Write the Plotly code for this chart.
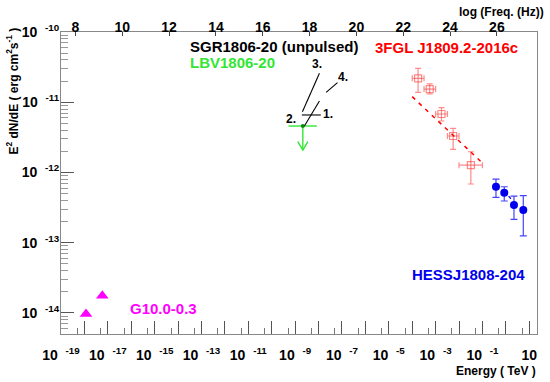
import numpy as np
import plotly.graph_objects as go

# ---------------- data ----------------
# 3FGL J1809.2-2016c  (Energy in TeV, E^2 dN/dE in erg cm^-2 s^-1)
fermi_e = [1.78e-4, 5.6e-4, 1.78e-3, 5.6e-3, 3.2e-2]
fermi_e_lo = [1.0e-4, 3.2e-4, 1.0e-3, 3.2e-3, 1.0e-2]
fermi_e_hi = [3.2e-4, 1.0e-3, 3.2e-3, 1.0e-2, 1.0e-1]
fermi_f = [2.19e-11, 1.54e-11, 6.79e-12, 3.30e-12, 1.27e-12]
fermi_f_lo = [1.38e-11, 1.31e-11, 5.40e-12, 2.13e-12, 6.84e-13]
fermi_f_hi = [3.04e-11, 1.82e-11, 8.36e-12, 4.25e-12, 1.97e-12]
fermi_fit_e = [1.0e-4, 1.0e-1]
fermi_fit_f = [1.20e-11, 1.36e-12]

# HESS J1808-204
hess_e = [0.378, 0.855, 2.22, 5.55]
hess_f = [6.25e-13, 5.14e-13, 3.44e-13, 2.91e-13]
hess_f_lo = [4.42e-13, 3.92e-13, 2.15e-13, 1.25e-13]
hess_f_hi = [8.05e-13, 6.25e-13, 4.61e-13, 4.66e-13]
hess_fit_e = [1.30, 1.65]
hess_fit_f = [4.61e-13, 4.22e-13]

# G10.0-0.3 (radio)
g10_e = [1.17e-18, 5.82e-18]
g10_f = [9.6e-15, 1.75e-14]

# LBV1806-20 upper limit
lbv_e = 2.13e-9
lbv_e_lo = 5.18e-10
lbv_e_hi = 8.45e-9
lbv_f = 4.58e-12
lbv_f_end = 2.08e-12

# SGR1806-20 (unpulsed) segments 1-4
sgr_labels = ["1.", "2.", "3.", "4."]
sgr_seg_e = [[2.49e-9, 1.09e-8], [1.93e-9, 1.25e-8], [2.05e-9, 1.09e-8], [2.11e-8, 6.43e-8]]
sgr_seg_f = [[4.58e-12, 1.04e-11], [6.58e-12, 6.58e-12], [7.33e-12, 2.58e-11], [1.38e-11, 1.90e-11]]
sgr_lab_e = [2.65e-8, 6.75e-10, 8.45e-9, 1.16e-7]
sgr_lab_f = [6.79e-12, 5.70e-12, 3.50e-11, 2.26e-11]

# axes
x_range_log = [-19, 1.33]
y_range_log = [np.log10(5e-15), -10]
x_label_decades = list(range(-19, 2, 2))
y_label_decades = list(range(-14, -9))
freq_ticks = list(range(8, 27, 2))
LOG_HZ_PER_TEV = np.log10(1.602176634e-7 / 6.62607015e-34)

FONT = "Liberation Sans, Arial, Helvetica, sans-serif"
RED = "#ff0000"
PINK = "rgba(255,60,60,0.6)"
BLUE = "#0000ee"
GREEN = "#33e633"
MAG = "#ff00ff"
SP = "\u00a0\u00a0"

fig = go.Figure()

# Fermi points
fig.add_trace(go.Scatter(
    x=fermi_e, y=fermi_f, mode="markers",
    marker=dict(symbol="square-open", size=7, color=PINK, line=dict(width=1.2, color=PINK)),
    error_y=dict(type="data", symmetric=False,
                 array=[h - f for h, f in zip(fermi_f_hi, fermi_f)],
                 arrayminus=[f - l for l, f in zip(fermi_f_lo, fermi_f)],
                 color=PINK, thickness=1.2, width=3),
    error_x=dict(type="data", symmetric=False,
                 array=[h - e for h, e in zip(fermi_e_hi, fermi_e)],
                 arrayminus=[e - l for l, e in zip(fermi_e_lo, fermi_e)],
                 color=PINK, thickness=1.2, width=3),
    showlegend=False, hoverinfo="skip"))
fig.add_trace(go.Scatter(x=fermi_fit_e, y=fermi_fit_f, mode="lines",
                         line=dict(color=RED, width=1.5, dash="4px,5px"),
                         showlegend=False, hoverinfo="skip"))

# HESS points
fig.add_trace(go.Scatter(
    x=hess_e, y=hess_f, mode="markers",
    marker=dict(symbol="circle", size=8, color=BLUE),
    error_y=dict(type="data", symmetric=False,
                 array=[h - f for h, f in zip(hess_f_hi, hess_f)],
                 arrayminus=[f - l for l, f in zip(hess_f_lo, hess_f)],
                 color="#4444ff", thickness=1.2, width=3.5),
    showlegend=False, hoverinfo="skip"))
fig.add_trace(go.Scatter(x=hess_fit_e, y=hess_fit_f, mode="lines",
                         line=dict(color=BLUE, width=1.2),
                         showlegend=False, hoverinfo="skip"))

# G10.0-0.3
fig.add_trace(go.Scatter(x=g10_e, y=g10_f, mode="markers",
                         marker=dict(symbol="triangle-up", size=11, color=MAG),
                         showlegend=False, hoverinfo="skip"))

# LBV upper limit: bar, arrow shaft, arrow head
head_f = lbv_f_end * 1.32
head_fac = 1.64
fig.add_trace(go.Scatter(
    x=[lbv_e_lo, lbv_e_hi, None, lbv_e, lbv_e, None,
       lbv_e / head_fac, lbv_e, lbv_e * head_fac],
    y=[lbv_f, lbv_f, None, lbv_f, lbv_f_end, None, head_f, lbv_f_end, head_f],
    mode="lines", line=dict(color=GREEN, width=1.4),
    showlegend=False, hoverinfo="skip"))
fig.add_trace(go.Scatter(x=[lbv_e], y=[lbv_f], mode="markers",
                         marker=dict(size=4, color="#118811"),
                         showlegend=False, hoverinfo="skip"))

# SGR segments
for se, sf in zip(sgr_seg_e, sgr_seg_f):
    fig.add_trace(go.Scatter(x=se, y=sf, mode="lines",
                             line=dict(color="black", width=1.1),
                             showlegend=False, hoverinfo="skip"))

# invisible trace on the top (frequency) axis
fig.add_trace(go.Scatter(x=[r + LOG_HZ_PER_TEV for r in x_range_log], y=[1e-12, 1e-12],
                         xaxis="x2", mode="markers", marker=dict(opacity=0),
                         showlegend=False, hoverinfo="skip"))

annotations = []
for lab, le, lf in zip(sgr_labels, sgr_lab_e, sgr_lab_f):
    annotations.append(dict(x=np.log10(le), y=np.log10(lf), xref="x", yref="y",
                            text=f"<b>{lab}</b>", showarrow=False,
                            font=dict(family=FONT, size=12, color="black")))


def paper_text(text, x, y, color, size=15, xanchor="center", yanchor="middle", angle=0):
    annotations.append(dict(x=x, y=y, xref="paper", yref="paper", text=text,
                            showarrow=False, xanchor=xanchor, yanchor=yanchor,
                            textangle=angle,
                            font=dict(family=FONT, size=size, color=color)))


paper_text("<b>SGR1806-20 (unpulsed)</b>", 0.4485, 0.951, "black")
paper_text("<b>3FGL J1809.2-2016c</b>", 0.8099, 0.9503, RED)
paper_text("<b>LBV1806-20</b>", 0.2668, 0.899, GREEN, xanchor="left")
paper_text("<b>HESSJ1808-204</b>", 0.8565, 0.1977, BLUE)
paper_text("<b>G10.0-0.3</b>", 0.2162, 0.0851, MAG)
paper_text("<b>log (Freq. (Hz))</b>", 1.0183, 1.0672, "black", size=12, xanchor="right")
paper_text("<b>Energy ( TeV )</b>", 1.0015, -0.121, "black", size=12, xanchor="right")
paper_text("<b>E<sup>2</sup> dN/dE ( erg cm<sup>2</sup>s<sup>-1</sup> )</b>", -0.1019, 0.8046,
           "black", size=12, angle=-90)

x_tickvals = [10.0 ** d for d in range(x_range_log[0], 2)]
x_ticktext = []
for d in range(x_range_log[0], 2):
    if d in x_label_decades:
        x_ticktext.append("10" if d == 1 else f"10{SP}<sup>{d}</sup>")
    else:
        x_ticktext.append("")
x_minor = [5 * 10.0 ** d for d in range(x_range_log[0], 1)]
y_minor = [m * 10.0 ** d for d in range(-15, -10) for m in range(2, 10)
           if 5e-15 < m * 10.0 ** d < 1e-10]

tickfont = dict(family=FONT, size=14, color="black", weight="bold")

fig.update_layout(
    width=550, height=382,
    margin=dict(l=61, r=13, t=32, b=48),
    paper_bgcolor="white", plot_bgcolor="white",
    showlegend=False,
    annotations=annotations,
    xaxis=dict(type="log", range=x_range_log, showgrid=False, zeroline=False,
               showline=True, linecolor="#888", linewidth=1, mirror=True,
               ticks="inside", ticklen=13, tickcolor="#555", tickwidth=1,
               tickmode="array", tickvals=x_tickvals, ticktext=x_ticktext,
               tickfont=tickfont, ticklabelstandoff=8,
               minor=dict(tickvals=x_minor, ticks="inside", ticklen=6,
                          tickcolor="#777", tickwidth=1, showgrid=False)),
    xaxis2=dict(overlaying="x", side="top", anchor="y",
                range=[r + LOG_HZ_PER_TEV for r in x_range_log],
                showgrid=False, zeroline=False, showline=False,
                ticks="inside", ticklen=4, tickcolor="#444",
                tickmode="array", tickvals=freq_ticks,
                ticktext=[str(v) for v in freq_ticks], tickfont=tickfont,
                ticklabelstandoff=-4),
    yaxis=dict(type="log", range=y_range_log, showgrid=False, zeroline=False,
               showline=True, linecolor="#888", linewidth=1, mirror=True,
               ticks="inside", ticklen=13, tickcolor="#555", tickwidth=1,
               tickmode="array", tickvals=[10.0 ** d for d in y_label_decades],
               ticktext=[f"10{SP}<sup>{d}</sup>" for d in y_label_decades],
               tickfont=tickfont, ticklabelstandoff=-2,
               minor=dict(tickvals=y_minor, ticks="inside", ticklen=6.5,
                          tickcolor="#999", tickwidth=1, showgrid=False)),
)

fig.write_html("out.html", config={"displayModeBar": False},
               post_script="document.body.style.margin='0px';")
